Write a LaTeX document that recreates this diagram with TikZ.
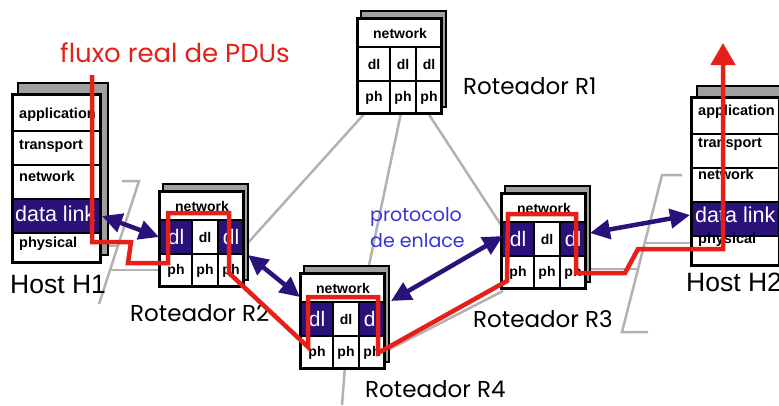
\documentclass[tikz,border=0pt]{standalone}
\usepackage{fontspec}
\setmainfont{Liberation Sans}
\newfontfamily\casual{Poppins}
\usetikzlibrary{arrows.meta}

\definecolor{navy}{RGB}{43,17,122}
\definecolor{flowred}{RGB}{228,32,24}
\definecolor{linkgray}{RGB}{178,178,178}
\definecolor{shadegray}{RGB}{160,160,160}
\definecolor{protoblue}{RGB}{52,52,214}

\tikzset{
  shadowbox/.style={fill=shadegray, draw=black, line width=2.5pt},
  outline/.style={draw=black, line width=3pt},
  cell/.style={draw=black, fill=white, line width=2pt, inner sep=0pt, anchor=north west,
               font=\fontsize{14}{14}\selectfont\bfseries},
  navycell/.style={fill=navy, text=white, font=\fontsize{21}{21}\selectfont},
  whitecell/.style={},
  hosttxt/.style={anchor=base west, inner sep=0pt, font=\fontsize{14.5}{14.5}\selectfont\bfseries},
  dltxt/.style={anchor=base west, inner sep=0pt, text=white, font=\fontsize{21.5}{21.5}\selectfont},
  hostlabel/.style={anchor=base west, inner sep=0pt, font=\fontsize{26.5}{26.5}\selectfont},
  rlabel/.style={anchor=base west, inner sep=0pt, font=\casual\fontsize{23}{23}\selectfont},
  link/.style={draw=linkgray, line width=2.5pt},
  bluearrow/.style={draw=navy, line width=4.5pt,
     {Triangle[length=20pt,width=19pt]}-{Triangle[length=20pt,width=19pt]}},
  redflow/.style={draw=flowred, line width=4.5pt, line join=miter},
}

% router stack: #1 name, #2 left x, #3 top y, #4 style of the outer dl cells
\newcommand\routerstack[4]{%
  \draw[shadowbox] (#2+4,#3-7) rectangle (#2+89,#3+89);
  \node[cell, minimum width=84pt, minimum height=28pt] (#1-net) at (#2,#3) {network};
  \node[cell, #4, minimum width=32pt, minimum height=34pt] (#1-dl1) at (#2,#3+28) {dl};
  \node[cell, minimum width=26pt, minimum height=34pt] (#1-dl2) at (#2+32,#3+28) {dl};
  \node[cell, #4, minimum width=26pt, minimum height=34pt] (#1-dl3) at (#2+58,#3+28) {dl};
  \node[cell, minimum width=32pt, minimum height=33pt] (#1-ph1) at (#2,#3+62) {ph};
  \node[cell, minimum width=26pt, minimum height=33pt] (#1-ph2) at (#2+32,#3+62) {ph};
  \node[cell, minimum width=26pt, minimum height=33pt] (#1-ph3) at (#2+58,#3+62) {ph};
  \draw[outline] (#2,#3) rectangle (#2+84,#3+95);
}

% host stack: #1 name, #2 left x, #3 top y
\newcommand\hoststack[3]{%
  \draw[shadowbox] (#2+6,#3-11) rectangle (#2+96,#3+161);
  \node[cell, minimum width=88pt, minimum height=36pt] (#1-app) at (#2,#3) {};
  \node[cell, minimum width=88pt, minimum height=34pt] (#1-tr) at (#2,#3+36) {};
  \node[cell, minimum width=88pt, minimum height=34pt] (#1-net) at (#2,#3+70) {};
  \node[cell, fill=navy, minimum width=88pt, minimum height=34pt] (#1-dl) at (#2,#3+104) {};
  \node[cell, minimum width=88pt, minimum height=30pt] (#1-ph) at (#2,#3+138) {};
  \draw[outline] (#2,#3) rectangle (#2+88,#3+168);
}

\begin{document}
\begin{tikzpicture}[x=1pt,y=-1pt]
\useasboundingbox (0,0) rectangle (779,405);
\begin{scope}
\clip (0,0) rectangle (779,405);

% ---- physical links (grey) ----
\coordinate (lanA1) at (122,181);
\coordinate (lanA2) at (139,181);
\coordinate (lanA3) at (99,304);
\coordinate (lanB1) at (682,175);
\coordinate (lanB2) at (662,175);
\coordinate (lanB3) at (622,332);
\coordinate (lanB4) at (648,332);
\draw[link, line join=miter] (lanA1) -- (lanA2) -- (lanA3);
\draw[link, line join=miter] (lanB1) -- (lanB2) -- (lanB3) -- (lanB4);
\draw[link] (100,246) -- (119,246);
\draw[link] (111,270) -- (162,270);
\draw[link] (365,113) -- (246,245);
\draw[link] (401,113) -- (368,270);
\draw[link] (428,113) -- (503,228);
\draw[link] (240,283) -- (302,341);
\draw[link] (384,352) -- (503,291);
\draw[link] (345,366) -- (342,405);
\draw[link] (585,269) -- (639,269);
\draw[link] (644,243) -- (693,243);

% ---- hosts ----
\hoststack{H1}{12}{94}
\node[hosttxt] at (19,118) {application};
\node[hosttxt] at (19,149) {transport};
\node[hosttxt] at (19,181) {network};
\node[dltxt]   at (15,221) {data link};
\node[hosttxt] at (19,247) {physical};
\node[hostlabel] (H1-label) at (10,293) {Host H1};

\hoststack{H2}{691}{97}
\node[hosttxt] at (698,115) {application};
\node[hosttxt] at (698,147) {transport};
\node[hosttxt] at (698,179) {network};
\node[dltxt]   at (695,222) {data link};
\node[hosttxt] at (698,243) {physical};
\node[hostlabel] (H2-label) at (686,291) {Host H2};

% ---- routers ----
\routerstack{R1}{357}{18}{whitecell}
\routerstack{R2}{159}{191}{navycell}
\routerstack{R4}{300}{273}{navycell}
\routerstack{R3}{501}{193}{navycell}

\node[rlabel] (R1-label) at (463,94)  {Roteador R1};
\node[rlabel] (R2-label) at (130,321) {Roteador R2};
\node[rlabel] (R3-label) at (473,327) {Roteador R3};
\node[rlabel] (R4-label) at (365,397) {Roteador R4};

% ---- logical link-layer peers ----
\draw[bluearrow] (H1-dl.east) -- (R2-dl1.west);
\draw[bluearrow] ([shift={(3pt,0pt)}]R2-dl3.south east) -- ([shift={(0pt,4pt)}]R4-dl1.north west);
\draw[bluearrow] ([shift={(5pt,0pt)}]R4-dl3.north east) -- ([shift={(2pt,3pt)}]R3-dl1.west);
\draw[bluearrow] ([shift={(3pt,6pt)}]R3-dl3.east) -- ([shift={(-1pt,4pt)}]H2-dl.west);

\node[anchor=base west, inner sep=0pt, text=protoblue, font=\casual\fontsize{19}{19}\selectfont]
  (proto1) at (370,221) {protocolo};
\node[anchor=base west, inner sep=0pt, text=protoblue, font=\casual\fontsize{19}{19}\selectfont]
  (proto2) at (370,247) {de enlace};

% ---- actual PDU flow ----
\draw[redflow, -{Triangle[length=22pt,width=24pt]}]
  (92,75) -- (92,242) -- (131,242) -- (128,263) -- (168,263) -- (168,213)
  -- (229,213) -- (229,273) -- (308,347) -- (308,297) -- (378,297) -- (378,353)
  -- (507,281) -- (508,214) -- (576,214) -- (576,273) -- (625,273) -- (638,249)
  -- (723,249) -- (723,43);
\node[anchor=base west, inner sep=0pt, text=flowred, font=\casual\fontsize{26}{26}\selectfont]
  (flowlabel) at (60,62) {fluxo real de PDUs};
\end{scope}
\end{tikzpicture}
\end{document}
